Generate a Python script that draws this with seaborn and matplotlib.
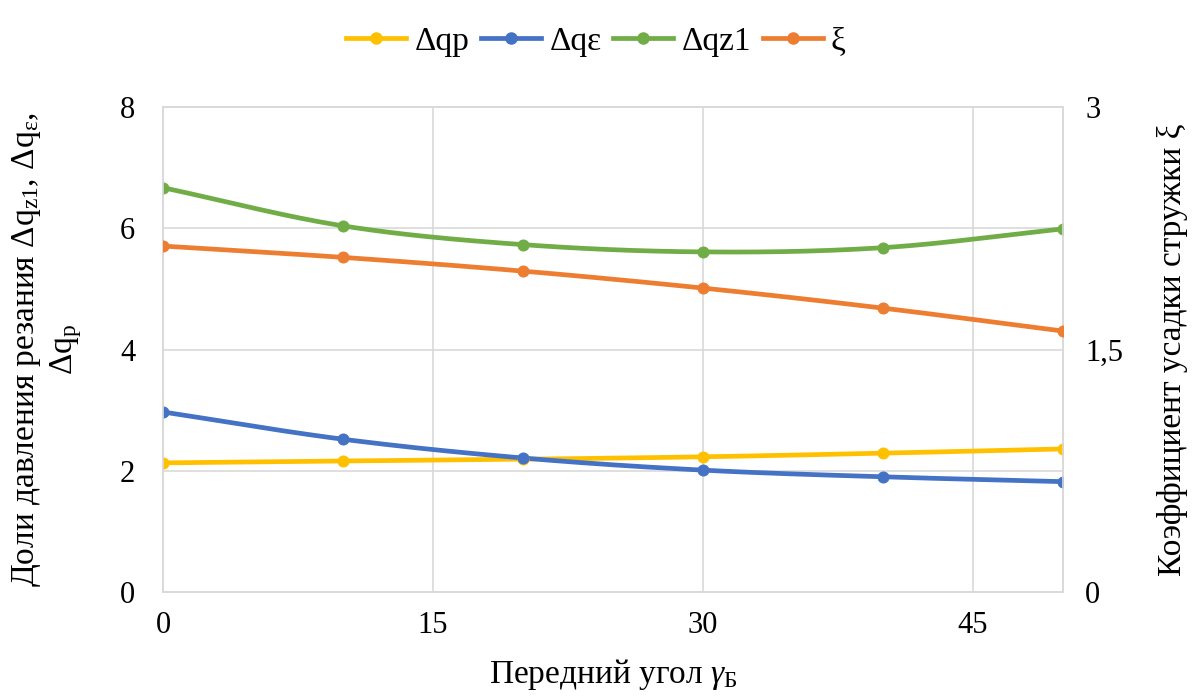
import numpy as np
import pandas as pd
import matplotlib
matplotlib.use("Agg")
import matplotlib.pyplot as plt
import seaborn as sns
from matplotlib.lines import Line2D

angles = [0, 10, 20, 30, 40, 50]
dq_p = [2.13, 2.16, 2.19, 2.23, 2.29, 2.36]
dq_eps = [2.97, 2.52, 2.21, 2.01, 1.90, 1.82]
dq_z1 = [6.67, 6.04, 5.73, 5.61, 5.68, 5.99]
xi = [2.14, 2.07, 1.985, 1.88, 1.756, 1.614]

series_names = ["Δqp", "Δqε", "Δqz1", "ξ"]
colors = ["#FFC000", "#4472C4", "#70AD47", "#ED7D31"]

x_ticks = [0, 15, 30, 45]
y_left_ticks = [0, 2, 4, 6, 8]
y_right_ticks = [0, 1.5, 3]
y_right_labels = ["0", "1,5", "3"]

FAM = "Liberation Serif"
plt.rcParams.update({
    "font.family": FAM,
    "mathtext.fontset": "custom",
    "mathtext.rm": FAM,
    "mathtext.it": FAM + ":italic",
    "mathtext.bf": FAM + ":bold",
    "axes.facecolor": "white",
    "figure.facecolor": "white",
})


def smooth(x, y, n=30):
    # Catmull-Rom style smoothing for display (like Excel smoothed lines)
    x = np.asarray(x, float); y = np.asarray(y, float)
    px = np.concatenate([[2 * x[0] - x[1]], x, [2 * x[-1] - x[-2]]])
    py = np.concatenate([[2 * y[0] - y[1]], y, [2 * y[-1] - y[-2]]])
    xs, ys = [], []
    for i in range(1, len(px) - 2):
        t = np.linspace(0, 1, n, endpoint=(i == len(px) - 3))
        for P, out in ((px, xs), (py, ys)):
            p0, p1, p2, p3 = P[i - 1], P[i], P[i + 1], P[i + 2]
            out.extend(0.5 * ((2 * p1) + (-p0 + p2) * t + (2 * p0 - 5 * p1 + 4 * p2 - p3) * t ** 2
                              + (-p0 + 3 * p1 - 3 * p2 + p3) * t ** 3))
    return np.array(xs), np.array(ys)


fig = plt.figure(figsize=(11.92, 7.0), dpi=100)
ax = fig.add_axes([0.1367, 0.1543, 0.7551, 0.6928])
ax2 = ax.twinx()

grid_c = "#D9D9D9"
for a in (ax, ax2):
    for s in a.spines.values():
        s.set_color(grid_c)
        s.set_linewidth(1.2)

lw = 3.4
ms = 8
left_data = [dq_p, dq_eps, dq_z1]
for vals, c in zip(left_data, colors[:3]):
    sx, sy = smooth(angles, vals)
    sns.lineplot(x=sx, y=sy, ax=ax, color=c, linewidth=lw, sort=False, estimator=None, zorder=3)
    sns.scatterplot(x=angles, y=vals, ax=ax, color=c, s=ms ** 2, edgecolor=c, zorder=4)

sx, sy = smooth(angles, xi)
sns.lineplot(x=sx, y=sy, ax=ax2, color=colors[3], linewidth=lw, sort=False, estimator=None, zorder=3)
sns.scatterplot(x=angles, y=xi, ax=ax2, color=colors[3], s=ms ** 2, edgecolor=colors[3], zorder=4)

ax.set_xlim(0, 50)
ax.set_ylim(0, 8)
ax2.set_ylim(0, 3)
ax.set_xticks(x_ticks)
ax.set_xticklabels([str(v) for v in x_ticks], family=FAM, fontsize=22)
ax.set_yticks(y_left_ticks)
ax.set_yticklabels([str(v) for v in y_left_ticks], family=FAM, fontsize=22)
ax2.set_yticks(y_right_ticks)
ax2.set_yticklabels(y_right_labels, family=FAM, fontsize=22)
ax.grid(True, color=grid_c, linewidth=1.2)
ax.set_axisbelow(True)
ax.tick_params(axis="x", length=0, pad=14, colors="black")
ax.tick_params(axis="y", length=0, pad=20, colors="black")
ax2.tick_params(axis="y", length=0, pad=16, colors="black")

ax.set_xlabel(r"Передний угол $\mathit{\gamma}_{\mathrm{Б}}$", family=FAM, fontsize=24, labelpad=12)
ax.set_ylabel("Доли давления резания Δq$_{\\mathrm{z1}}$, Δq$_{\\mathrm{ε}}$,\nΔq$_{\\mathrm{p}}$",
              family=FAM, fontsize=24, labelpad=26, linespacing=1.2)
ax2.set_ylabel("Коэффициент усадки стружки ξ", family=FAM, fontsize=24, labelpad=24)

handles = [Line2D([0], [0], color=c, linewidth=lw, marker="o", markersize=ms) for c in colors]
fig.legend(handles, series_names, loc="upper center", bbox_to_anchor=(0.5, 1.005), ncol=4,
           frameon=False, prop={"family": FAM, "size": 24},
           handlelength=1.8, handletextpad=0.25, columnspacing=0.35)

fig.savefig("out.png", dpi=100)
